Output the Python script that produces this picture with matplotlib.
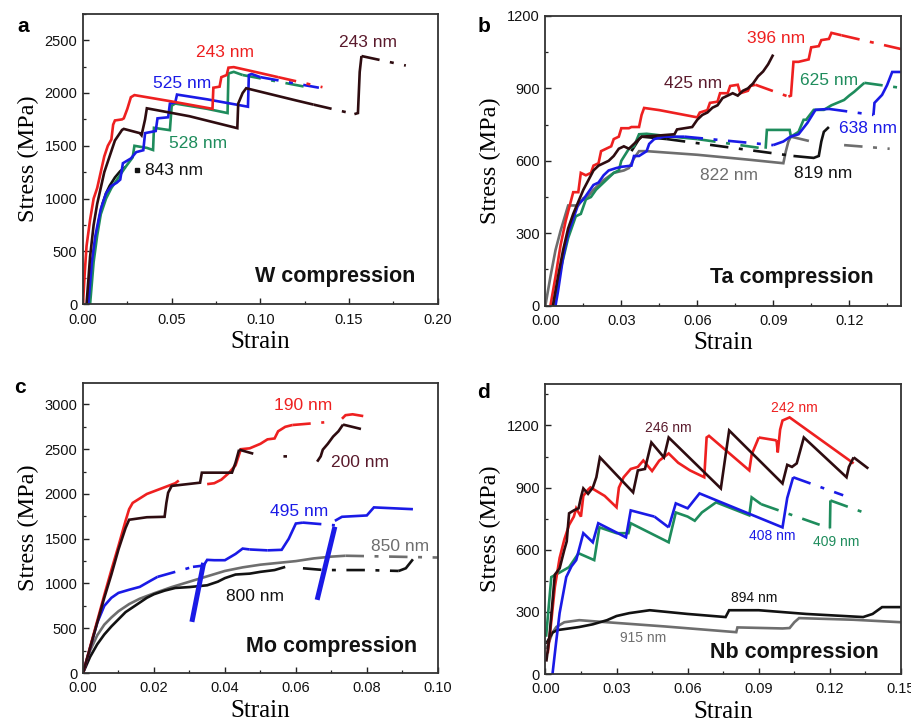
import numpy as np
import matplotlib
matplotlib.use("Agg")
import matplotlib.pyplot as plt
from matplotlib.ticker import MultipleLocator, FormatStrFormatter

# ---------------- colours ----------------
RED = "#ee2020"
BLUE = "#1a1ae6"
GREEN = "#1e8c5c"
BLACK = "#121212"
DARK = "#2e0c10"
GREY = "#6e6e6e"
DARKLBL = "#5a1a2c"

N = None
# ================= Panel a : W =================
a_red_x = [0, 0.001, 0.002, 0.004, 0.006, 0.008, 0.010, 0.012, 0.014, 0.016, 0.017, 0.018, 0.022, 0.023, 0.025, 0.027, 0.029, 0.050, 0.073, 0.0735, 0.077, 0.078, 0.081, 0.082, 0.085, 0.097, 0.110]
a_red_y = [0, 300, 550, 800, 1000, 1100, 1250, 1400, 1500, 1560, 1700, 1740, 1750, 1760, 1850, 1960, 1980, 1920, 1850, 2050, 2060, 2150, 2170, 2240, 2245, 2200, 2150]
a_red_dx = [0.110, 0.135]
a_red_dy = [2150, 2055]

a_blue_x = [0.003, 0.005, 0.007, 0.010, 0.013, 0.016, 0.019, 0.021, 0.0225, 0.027, 0.030, 0.034, 0.035, 0.041, 0.042, 0.048, 0.049, 0.052, 0.053, 0.070, 0.093, 0.0935, 0.095, 0.100]
a_blue_y = [0, 400, 650, 900, 1050, 1120, 1150, 1180, 1335, 1380, 1440, 1458, 1620, 1640, 1760, 1770, 1900, 1910, 1985, 1940, 1870, 2170, 2180, 2150]
a_blue_dx = [0.100, 0.133]
a_blue_dy = [2150, 2050]

a_green_x = [0.004, 0.006, 0.008, 0.010, 0.013, 0.016, 0.020, 0.024, 0.028, 0.029, 0.036, 0.0395, 0.040, 0.049, 0.050, 0.052, 0.070, 0.0815, 0.082, 0.085, 0.090]
a_green_y = [0, 400, 650, 850, 1000, 1100, 1200, 1300, 1390, 1500, 1480, 1460, 1670, 1648, 1880, 1900, 1850, 1810, 2185, 2200, 2170]
a_green_dx = [0.090, 0.125]
a_green_dy = [2170, 2060]

a_dark_x = [0.002, 0.004, 0.006, 0.008, 0.010, 0.012, 0.014, 0.016, 0.018, 0.020, 0.022, 0.023, 0.032, 0.033, 0.035, 0.036, 0.060, 0.087, 0.0875, 0.090, 0.092, 0.120, 0.130, N, 0.153, 0.155, 0.156, 0.157]
a_dark_y = [0, 450, 750, 950, 1100, 1250, 1350, 1450, 1550, 1600, 1650, 1660, 1620, 1600, 1750, 1855, 1780, 1667, 1900, 2000, 2045, 1930, 1890, N, 1800, 1810, 2200, 2350]
a_dark_dx = [0.130, 0.153, N, 0.157, 0.182]
a_dark_dy = [1890, 1800, N, 2350, 2260]

a_black_x = [0.003, 0.005, 0.007, 0.009, 0.011, 0.013, 0.015, 0.018, 0.021, 0.024]
a_black_y = [0, 350, 600, 800, 950, 1050, 1120, 1200, 1260, 1300]
a_black_dx = [0.0305]
a_black_dy = [1270]

# ================= Panel b : Ta =================
b_red_x = [0.002, 0.004, 0.006, 0.008, 0.010, 0.011, 0.013, 0.014, 0.016, 0.018, 0.019, 0.021, 0.022, 0.024, 0.026, 0.027, 0.029, 0.030, 0.033, 0.034, 0.037, 0.038, 0.039, 0.045, 0.055, 0.060, 0.061, 0.064, 0.065, 0.068, 0.069, 0.072, 0.073, 0.076, 0.077, 0.080, 0.081, 0.083,
           N, 0.096, 0.097, 0.098, 0.100, 0.104, 0.105, 0.108, 0.109, 0.112, 0.113, 0.117]
b_red_y = [0, 120, 250, 350, 430, 470, 470, 550, 540, 550, 580, 590, 640, 650, 660, 690, 700, 735, 735, 740, 740, 790, 819, 810, 790, 780, 800, 810, 840, 845, 880, 880, 910, 915, 880, 890, 910, 915,
           N, 866, 870, 1010, 1010, 1020, 1070, 1075, 1100, 1105, 1130, 1120]
b_red_dx = [0.083, 0.096, N, 0.117, 0.1405]
b_red_dy = [915, 866, N, 1120, 1063]

b_dark_x = [0.003, 0.005, 0.007, 0.009, 0.011, 0.013, 0.015, 0.017, 0.019, 0.021, 0.023, 0.025, 0.027, 0.029, 0.031, 0.033, 0.036, 0.038, 0.045, 0.051, 0.052, 0.058, 0.060, 0.062, 0.064, 0.066, 0.068, 0.070, 0.072, 0.074, 0.076, 0.078, 0.080, 0.082, 0.084, 0.086, 0.088, 0.090]
b_dark_y = [0, 120, 230, 320, 380, 430, 480, 520, 560, 580, 590, 600, 620, 650, 660, 650, 680, 700, 705, 710, 730, 740, 770, 790, 800, 820, 830, 860, 870, 880, 870, 890, 900, 920, 950, 970, 1000, 1040]

b_black_x = [0.034, 0.037, 0.038, 0.048, N, 0.098, 0.106, 0.108, 0.109, 0.110, 0.112]
b_black_y = [640, 690, 700, 690, N, 620, 612, 620, 680, 720, 740]
b_black_dx = [0.048, 0.098]
b_black_dy = [690, 620]

b_green_x = [0.003, 0.006, 0.009, 0.012, 0.014, 0.016, 0.018, 0.020, 0.022, 0.024, 0.027, 0.029, 0.030, 0.033, 0.035, 0.037, 0.040, 0.050, 0.060,
             N, 0.087, 0.0875, 0.0965, 0.097, 0.100, 0.102, 0.103, 0.106, 0.110, 0.113, 0.118, 0.120, 0.122, 0.126]
b_green_y = [0, 150, 280, 370, 380, 440, 450, 480, 500, 520, 550, 560, 600, 650, 660, 710, 712, 700, 690,
             N, 650, 728, 728, 700, 720, 770, 770, 811, 811, 830, 852, 870, 886, 923]
b_green_dx = [0.060, 0.087, N, 0.126, 0.1405]
b_green_dy = [690, 650, N, 923, 902]

b_blue_x = [0.004, 0.005, 0.007, 0.009, 0.011, 0.013, 0.015, 0.017, 0.019, 0.021, 0.023, 0.025, 0.028, 0.030, 0.034, 0.035, 0.037, 0.040, 0.041, 0.043, 0.047, 0.055,
            N, 0.090, 0.094, 0.0968, 0.100, 0.1035, 0.1067, 0.112,
            N, 0.1296, 0.130, 0.133, 0.135, 0.137, 0.1405]
b_blue_y = [0, 60, 200, 300, 360, 420, 440, 470, 500, 510, 540, 560, 570, 575, 580, 620, 620, 640, 670, 690, 700, 700,
            N, 665, 680, 700, 710, 757, 811, 815,
            N, 790, 840, 873, 914, 968, 968]
b_blue_dx = [0.055, 0.090, N, 0.112, 0.1296]
b_blue_dy = [700, 665, N, 815, 790]

b_grey_x = [0.0, 0.002, 0.004, 0.006, 0.008, 0.009, 0.013, 0.015, 0.017, 0.019, 0.021, 0.023, 0.025, 0.027, 0.029, 0.031, 0.033, 0.035, 0.037, 0.040, 0.060, 0.080, 0.094, 0.095, 0.096, 0.097]
b_grey_y = [0, 120, 230, 310, 380, 415, 415, 445, 455, 480, 500, 520, 535, 550, 555, 560, 570, 610, 640, 640, 625, 605, 590, 640, 680, 700]
b_grey_dx = [0.097, 0.105, N, 0.118, 0.136]
b_grey_dy = [700, 680, N, 665, 650]

# ================= Panel c : Mo =================
c_red_x = [0, 0.002, 0.004, 0.006, 0.008, 0.010, 0.012, 0.013, 0.014, 0.016, 0.018, 0.020, 0.022, 0.024, 0.026, 0.027,
           N, 0.035, 0.037, 0.039, 0.041, 0.043, 0.0445, 0.047, 0.050, 0.052, 0.054, 0.055, 0.057, 0.059,
           N, 0.073, 0.074, 0.076, 0.079]
c_red_y = [0, 290, 580, 870, 1150, 1420, 1700, 1830, 1900, 1950, 2000, 2030, 2060, 2090, 2120, 2150,
           N, 2110, 2120, 2160, 2230, 2320, 2500, 2510, 2560, 2610, 2620, 2700, 2750, 2770,
           N, 2840, 2880, 2890, 2870]
c_red_dx = [0.059, 0.068]
c_red_dy = [2770, 2800]

c_dark_x = [0, 0.002, 0.004, 0.006, 0.008, 0.010, 0.012, 0.013, 0.018, 0.023, 0.0235, 0.024, 0.025, 0.033, 0.0335, 0.042, 0.043, 0.044,
            N, 0.066, 0.067, 0.0676, 0.069, 0.0705, 0.072, 0.0733]
c_dark_y = [0, 280, 560, 840, 1100, 1380, 1620, 1712, 1740, 1745, 1900, 2014, 2090, 2126, 2238, 2238, 2350, 2495,
            N, 2361, 2420, 2495, 2560, 2641, 2700, 2775]
c_dark_dx = [0.044, 0.048, N, 0.0565, 0.0575, N, 0.0733, 0.0795]
c_dark_dy = [2495, 2450, N, 2420, 2420, N, 2775, 2715]

c_blue_x = [0, 0.002, 0.004, 0.006, 0.008, 0.010, 0.013, 0.016, 0.019, 0.021,
            N, 0.031, 0.034, 0.035, 0.037, 0.040, 0.043, 0.045, 0.047,
            N, 0.052, 0.056, 0.058, 0.060, 0.062,
            N, 0.071, 0.073, 0.080, 0.082, 0.093]
c_blue_y = [0, 280, 560, 750, 840, 895, 930, 962, 1030, 1074,
            N, 1186, 1200, 1264, 1260, 1260, 1330, 1390, 1380,
            N, 1370, 1376, 1500, 1670, 1680,
            N, 1700, 1745, 1760, 1850, 1830]
c_blue_dx = [0.021, 0.031, N, 0.047, 0.052, N, 0.062, 0.071]
c_blue_dy = [1074, 1186, N, 1380, 1370, N, 1680, 1650]
c_blue_ux = [0.0307, 0.034, N, 0.066, 0.071]
c_blue_uy = [571, 1230, N, 817, 1634]

c_grey_x = [0, 0.002, 0.004, 0.006, 0.008, 0.010, 0.013, 0.016, 0.020, 0.025, 0.030, 0.035, 0.040, 0.045, 0.050, 0.055, 0.060, 0.065, 0.070, 0.074]
c_grey_y = [0, 250, 420, 540, 620, 690, 770, 830, 890, 960, 1020, 1080, 1140, 1180, 1210, 1230, 1250, 1280, 1300, 1310]
c_grey_dx = [0.074, 0.100]
c_grey_dy = [1310, 1290]

c_black_x = [0, 0.002, 0.004, 0.006, 0.008, 0.010, 0.012, 0.015, 0.018, 0.020, 0.023, 0.026, 0.030, 0.035, 0.038, 0.040, 0.043, 0.047, 0.050, 0.054, 0.057,
             N, 0.089, 0.091, 0.093]
c_black_y = [0, 180, 320, 430, 520, 600, 680, 760, 840, 880, 920, 950, 960, 980, 1020, 1060, 1100, 1110, 1130, 1150, 1185,
             N, 1140, 1170, 1270]
c_black_dx = [0.062, 0.068, 0.080, 0.089]
c_black_dy = [1170, 1150, 1150, 1140]

# ================= Panel d : Nb =================
d_dark_x = [0.0004, 0.0017, 0.003, 0.004, 0.006, 0.008, 0.009, 0.010, 0.012, 0.014, 0.015, 0.016, 0.018, 0.020, 0.0215, 0.023, 0.037, 0.039, 0.042, 0.0447, 0.050, 0.052, 0.074, 0.0775, 0.100, 0.102, 0.104, 0.106, 0.109, 0.127, 0.128, 0.130]
d_dark_y = [60, 178, 350, 480, 510, 600, 640, 776, 790, 800, 853, 896, 870, 900, 950, 1046, 877, 983, 990, 1118, 1046, 1142, 896, 1176, 920, 1010, 1000, 1017, 1142, 950, 1000, 1046]
d_dark_dx = [0.130, 0.137]
d_dark_dy = [1046, 985]

d_red_x = [0.001, 0.002, 0.004, 0.006, 0.008, 0.010, 0.012, 0.013, 0.015, 0.016, 0.018, 0.019, 0.025, 0.030, 0.031, 0.033, 0.036, 0.039, 0.0413, 0.045, 0.048, 0.052, 0.056, 0.061, 0.067, 0.068, 0.069, 0.086, 0.087, 0.090,
           N, 0.0975, 0.098, 0.099, 0.100, 0.103, 0.130]
d_red_y = [100, 200, 420, 560, 650, 720, 760, 800, 760, 860, 890, 901, 860, 805, 900, 950, 990, 1000, 1031, 980, 1030, 1065, 1020, 983, 950, 1142, 1150, 983, 1060, 1142,
           N, 1128, 1070, 1180, 1224, 1239, 1017]
d_red_dx = [0.090, 0.0975]
d_red_dy = [1142, 1128]

d_blue_x = [0.003, 0.0045, 0.006, 0.0088, 0.011, 0.013, 0.016, 0.020, 0.0223, 0.034, 0.036, 0.046,
            N, 0.052, 0.055, 0.060, 0.065, 0.100, 0.102, 0.1045]
d_blue_y = [0, 150, 294, 468, 520, 550, 680, 636, 728, 660, 790, 760,
            N, 708, 824, 800, 872, 708, 850, 950]
d_blue_dx = [0.046, 0.052, N, 0.1045, 0.1256]
d_blue_dy = [760, 708, N, 950, 863]

d_green_x = [0.0003, 0.0025, 0.006, 0.010, 0.014, 0.0206, 0.0228, 0.030, 0.035, 0.036, 0.052, 0.055, 0.060, 0.063, 0.066, 0.072, 0.086, 0.087, 0.091,
             N, 0.120, 0.1202]
d_green_y = [180, 468, 490, 516, 583, 550, 708, 680, 680, 728, 636, 780, 760, 740, 780, 829, 766, 853, 820,
             N, 703, 838]
d_green_dx = [0.091, 0.120, N, 0.1202, 0.134]
d_green_dy = [820, 703, N, 838, 781]

d_black_x = [0.0005, 0.003, 0.005, 0.010, 0.0143, 0.020, 0.026, 0.030, 0.0354, 0.044, 0.060, 0.076, 0.0775, 0.090, 0.110, 0.134, 0.138, 0.142, 0.150]
d_black_y = [150, 200, 212, 220, 227, 240, 260, 280, 294, 308, 290, 275, 308, 308, 290, 275, 290, 323, 323]

d_grey_x = [0.0004, 0.003, 0.0046, 0.008, 0.0143, 0.020, 0.050, 0.0805, 0.081, 0.100, 0.103, 0.105, 0.107, 0.130, 0.150]
d_grey_y = [120, 200, 227, 250, 260, 255, 230, 202, 225, 220, 222, 250, 270, 262, 250]

DASH = (0, (7, 4, 1.5, 4))
LW = 1.9


def curve(ax, x, y, color, dx=None, dy=None, lw=LW):
    ax.plot(np.array(x, dtype=float), np.array(y, dtype=float), color=color, lw=lw,
            solid_joinstyle="miter", solid_capstyle="butt")
    if dx is not None:
        dxa = np.array(dx, dtype=float)
        dya = np.array(dy, dtype=float)
        if len(dxa) == 1:
            ax.plot(dxa, dya, "s", color=color, ms=3)
        else:
            ax.plot(dxa, dya, color=color, lw=lw, linestyle=DASH)


def style(ax, xmax, xmaj, xmin, ymax, ymaj, ymin, xfmt, yfmt):
    ax.set_xlim(0, xmax)
    ax.set_ylim(0, ymax)
    ax.xaxis.set_major_locator(MultipleLocator(xmaj))
    ax.xaxis.set_minor_locator(MultipleLocator(xmin))
    ax.yaxis.set_major_locator(MultipleLocator(ymaj))
    ax.yaxis.set_minor_locator(MultipleLocator(ymin))
    ax.xaxis.set_major_formatter(FormatStrFormatter(xfmt))
    ax.yaxis.set_major_formatter(FormatStrFormatter(yfmt))
    ax.tick_params(which="both", direction="in", top=False, right=False, colors="#222222",
                   labelsize=10.5, labelcolor="#111111")
    ax.tick_params(which="major", length=4, width=1.0)
    ax.tick_params(axis="x", which="major", pad=6)
    ax.tick_params(axis="y", which="major", pad=4)
    ax.tick_params(which="minor", length=2.5, width=0.9)
    for lab in ax.get_xticklabels() + ax.get_yticklabels():
        lab.set_fontfamily("Liberation Sans")
    for s in ax.spines.values():
        s.set_linewidth(1.3)
        s.set_color("#333333")
    ax.set_xlabel("Strain", family="Liberation Serif", fontsize=18, labelpad=3)
    ax.set_ylabel("Stress (MPa)", family="Liberation Serif", fontsize=17.5, labelpad=4)


def lbl(ax, x, y, s, c, fs=12.5, weight="normal"):
    ax.text(x, y, s, color=c, fontsize=fs, family="Liberation Sans", weight=weight,
            ha="center", va="center")


fig = plt.figure(figsize=(9.12, 7.26), dpi=100)
axa = fig.add_axes([0.091, 0.581, 0.389, 0.400])
axb = fig.add_axes([0.598, 0.579, 0.390, 0.399])
axc = fig.add_axes([0.091, 0.073, 0.389, 0.3995])
axd = fig.add_axes([0.598, 0.0716, 0.390, 0.3994])

# ---- a
curve(axa, a_black_x, a_black_y, BLACK, a_black_dx, a_black_dy)
curve(axa, a_green_x, a_green_y, GREEN, a_green_dx, a_green_dy)
curve(axa, a_blue_x, a_blue_y, BLUE, a_blue_dx, a_blue_dy)
curve(axa, a_dark_x, a_dark_y, DARK, a_dark_dx, a_dark_dy)
curve(axa, a_red_x, a_red_y, RED, a_red_dx, a_red_dy)
style(axa, 0.20, 0.05, 0.025, 2750, 500, 250, "%.2f", "%d")
lbl(axa, 0.080, 2386, "243 nm", RED)
lbl(axa, 0.0558, 2093, "525 nm", BLUE)
lbl(axa, 0.0648, 1525, "528 nm", GREEN)
lbl(axa, 0.0515, 1269, "843 nm", BLACK)
lbl(axa, 0.1606, 2481, "243 nm", DARKLBL)
lbl(axa, 0.142, 265, "W compression", BLACK, fs=15.5, weight="bold")

# ---- b
curve(axb, b_grey_x, b_grey_y, GREY, b_grey_dx, b_grey_dy)
curve(axb, b_black_x, b_black_y, BLACK, b_black_dx, b_black_dy)
curve(axb, b_green_x, b_green_y, GREEN, b_green_dx, b_green_dy)
curve(axb, b_blue_x, b_blue_y, BLUE, b_blue_dx, b_blue_dy)
curve(axb, b_red_x, b_red_y, RED, b_red_dx, b_red_dy)
curve(axb, b_dark_x, b_dark_y, DARK)
style(axb, 0.1405, 0.03, 0.015, 1200, 300, 150, "%.2f", "%d")
lbl(axb, 0.0912, 1105, "396 nm", RED)
lbl(axb, 0.0585, 919, "425 nm", DARKLBL)
lbl(axb, 0.112, 931, "625 nm", GREEN)
lbl(axb, 0.1276, 732, "638 nm", BLUE)
lbl(axb, 0.0727, 538, "822 nm", GREY)
lbl(axb, 0.1098, 546, "819 nm", BLACK)
lbl(axb, 0.0972, 116, "Ta compression", BLACK, fs=15.5, weight="bold")

# ---- c
curve(axc, c_grey_x, c_grey_y, GREY, c_grey_dx, c_grey_dy)
curve(axc, c_black_x, c_black_y, BLACK, c_black_dx, c_black_dy)
curve(axc, c_blue_x, c_blue_y, BLUE, c_blue_dx, c_blue_dy)
curve(axc, c_blue_ux, c_blue_uy, BLUE, lw=3.6)
curve(axc, c_red_x, c_red_y, RED, c_red_dx, c_red_dy)
curve(axc, c_dark_x, c_dark_y, DARK, c_dark_dx, c_dark_dy)
style(axc, 0.10, 0.02, 0.01, 3240, 500, 250, "%.2f", "%d")
lbl(axc, 0.062, 2988, "190 nm", RED)
lbl(axc, 0.078, 2350, "200 nm", DARKLBL)
lbl(axc, 0.0608, 1802, "495 nm", BLUE)
lbl(axc, 0.0893, 1410, "850 nm", GREY)
lbl(axc, 0.0485, 850, "800 nm", BLACK)
lbl(axc, 0.070, 291, "Mo compression", BLACK, fs=15.5, weight="bold")

# ---- d
curve(axd, d_grey_x, d_grey_y, GREY)
curve(axd, d_black_x, d_black_y, BLACK)
curve(axd, d_green_x, d_green_y, GREEN, d_green_dx, d_green_dy)
curve(axd, d_blue_x, d_blue_y, BLUE, d_blue_dx, d_blue_dy)
curve(axd, d_red_x, d_red_y, RED, d_red_dx, d_red_dy)
curve(axd, d_dark_x, d_dark_y, DARK, d_dark_dx, d_dark_dy)
style(axd, 0.15, 0.03, 0.015, 1400, 300, 150, "%.2f", "%d")
lbl(axd, 0.105, 1282, "242 nm", RED, fs=10)
lbl(axd, 0.052, 1186, "246 nm", DARKLBL, fs=10)
lbl(axd, 0.0957, 665, "408 nm", BLUE, fs=10)
lbl(axd, 0.1226, 636, "409 nm", GREEN, fs=10)
lbl(axd, 0.088, 366, "894 nm", BLACK, fs=10)
lbl(axd, 0.0413, 173, "915 nm", GREY, fs=10)
lbl(axd, 0.105, 106, "Nb compression", BLACK, fs=15.5, weight="bold")

# panel letters
for (px, py, t) in [(23, 27, "a"), (484, 26, "b"), (20, 388, "c"), (484, 392, "d")]:
    fig.text(px / 912, 1 - py / 726, t, fontsize=15, weight="bold", family="Liberation Sans",
             ha="center", va="center")

fig.savefig("out.png", dpi=100)
